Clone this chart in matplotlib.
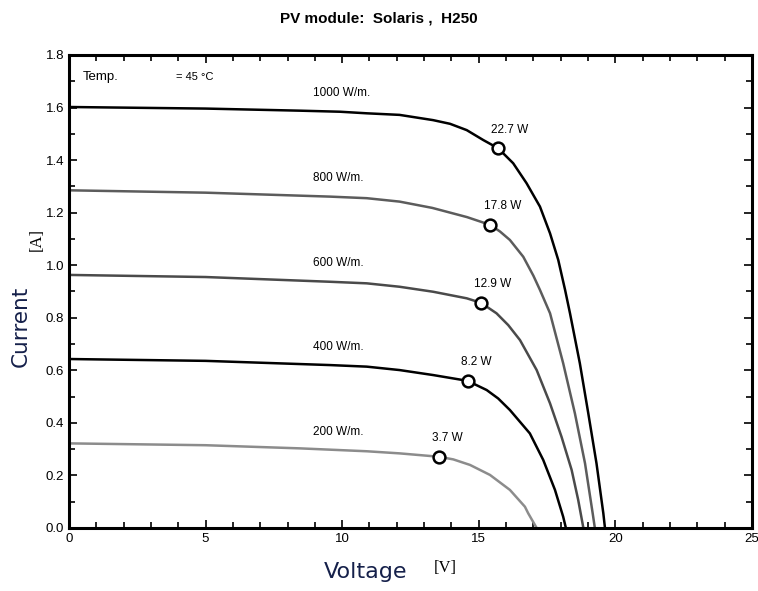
import matplotlib
matplotlib.use("Agg")
import matplotlib.pyplot as plt
from matplotlib.ticker import MultipleLocator

# I-V curves (voltage in V, current in A)
v_1000 = [0, 5, 8.46, 9.92, 10.9, 12.1, 13.33, 13.95, 14.56, 15.17, 15.71, 16.26, 16.75, 17.24,
          17.61, 17.91, 18.16, 18.34, 18.7, 19.01, 19.31, 19.56, 19.62]
i_1000 = [1.602, 1.596, 1.588, 1.584, 1.578, 1.572, 1.552, 1.538, 1.514, 1.476, 1.445, 1.388, 1.312, 1.223,
          1.121, 1.02, 0.906, 0.817, 0.627, 0.436, 0.246, 0.056, 0.0]

v_800 = [0, 5, 9.55, 10.9, 12.1, 13.3, 14.57, 15.43, 15.78, 16.14, 16.63, 17.0, 17.24, 17.61,
         18.09, 18.52, 18.89, 19.17, 19.25]
i_800 = [1.285, 1.276, 1.261, 1.255, 1.242, 1.218, 1.183, 1.153, 1.128, 1.096, 1.032, 0.96, 0.906, 0.817,
         0.627, 0.436, 0.246, 0.056, 0.0]

v_600 = [0, 5, 9.55, 10.9, 12.1, 13.33, 14.56, 15.08, 15.65, 16.08, 16.51, 17.12, 17.61, 18.03,
         18.4, 18.64, 18.83]
i_600 = [0.963, 0.955, 0.937, 0.931, 0.918, 0.899, 0.874, 0.857, 0.817, 0.772, 0.715, 0.601, 0.474, 0.347,
         0.221, 0.107, 0.0]

v_400 = [0, 5, 9.55, 10.9, 12.1, 13.33, 14.59, 15.29, 15.71, 16.14, 16.87, 17.36, 17.79, 18.09, 18.19]
i_400 = [0.643, 0.636, 0.62, 0.614, 0.601, 0.582, 0.56, 0.525, 0.493, 0.449, 0.36, 0.259, 0.145, 0.043, 0.0]

v_200 = [0, 5, 8.46, 10.9, 12.1, 13.56, 14.07, 14.68, 15.41, 16.14, 16.69, 16.81, 17.12]
i_200 = [0.322, 0.315, 0.303, 0.292, 0.284, 0.271, 0.261, 0.24, 0.202, 0.145, 0.081, 0.056, 0.0]

irradiance = ["1000 W/m.", "800 W/m.", "600 W/m.", "400 W/m.", "200 W/m."]
label_y = [1.655, 1.33, 1.008, 0.689, 0.365]

# maximum power points
v_mpp = [15.71, 15.43, 15.08, 14.59, 13.56]
i_mpp = [1.445, 1.153, 0.857, 0.56, 0.271]
p_mpp = ["22.7 W", "17.8 W", "12.9 W", "8.2 W", "3.7 W"]

curves = [(v_1000, i_1000), (v_800, i_800), (v_600, i_600), (v_400, i_400), (v_200, i_200)]
colors = ["#000000", "#5c5c5c", "#4a4a4a", "#000000", "#8c8c8c"]

fig = plt.figure(figsize=(7.58, 5.91), dpi=100)
ax = fig.add_axes([0.091, 0.1066, 0.901, 0.8004])

sans = ["Liberation Sans", "DejaVu Sans"]

for (v, i), c in zip(curves, colors):
    ax.plot(v, i, color=c, linewidth=1.8, zorder=2)

ax.plot(v_mpp, i_mpp, linestyle="none", marker="o", markersize=8.5,
        markerfacecolor="white", markeredgecolor="black", markeredgewidth=1.8, zorder=3)

for v, i, p in zip(v_mpp, i_mpp, p_mpp):
    ax.annotate(p, (v, i), xytext=(-5, 9), textcoords="offset points",
                fontsize=8.5, family=sans, ha="left", va="bottom")

for txt, y in zip(irradiance, label_y):
    ax.text(8.95, y, txt, fontsize=8.5, family=sans, ha="left", va="center")

ax.text(0.5, 1.715, "Temp.", fontsize=9.5, family=sans, ha="left", va="center")
ax.text(3.9, 1.715, "= 45 °C", fontsize=8, family=sans, ha="left", va="center")

ax.set_xlim(0, 25)
ax.set_ylim(0, 1.8)
ax.xaxis.set_major_locator(MultipleLocator(5))
ax.xaxis.set_minor_locator(MultipleLocator(1))
ax.yaxis.set_major_locator(MultipleLocator(0.2))
ax.yaxis.set_minor_locator(MultipleLocator(0.1))
ax.yaxis.set_major_formatter(plt.FuncFormatter(lambda y, _: f"{y:.1f}"))
ax.tick_params(which="both", direction="in", top=True, right=True, width=1.2)
ax.tick_params(which="major", length=6, labelsize=9.5)
ax.tick_params(which="minor", length=4)
for lab in ax.get_xticklabels() + ax.get_yticklabels():
    lab.set_family(sans)
for s in ax.spines.values():
    s.set_linewidth(2.2)

fig.text(0.5, 0.968, "PV module:  Solaris ,  H250", fontsize=11, fontweight="bold",
         family=["Liberation Sans Narrow", "Liberation Sans", "DejaVu Sans"], ha="center", va="center")

navy = "#15204a"
fig.text(0.482, 0.032, "Voltage", fontsize=16, color=navy, ha="center", va="center")
fig.text(0.588, 0.039, "[V]", fontsize=12, family="Liberation Serif", ha="center", va="center")
fig.text(0.027, 0.447, "Current", fontsize=15.5, color=navy, rotation=90, ha="center", va="center")
fig.text(0.049, 0.594, "[A]", fontsize=12, family="Liberation Serif", rotation=90, ha="center", va="center")

fig.savefig("out.png", dpi=100)
